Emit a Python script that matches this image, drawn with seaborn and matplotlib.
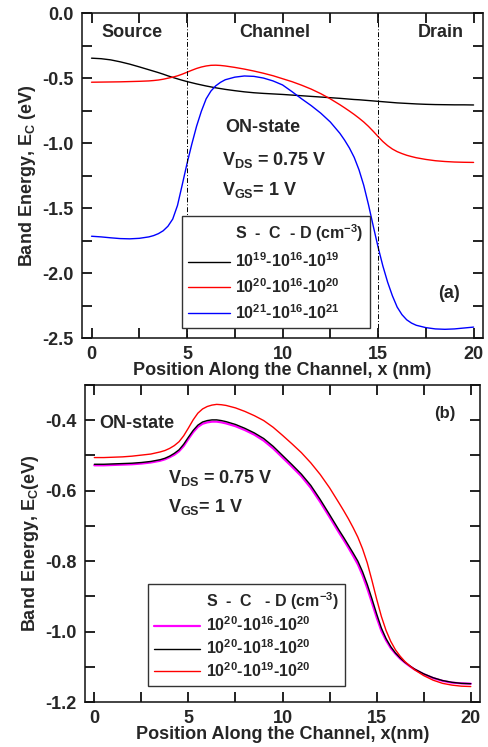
import matplotlib
matplotlib.use("Agg")
import numpy as np
import pandas as pd
import seaborn as sns
import matplotlib.pyplot as plt
from matplotlib.lines import Line2D
from matplotlib.ticker import MultipleLocator, FormatStrFormatter

# ---------------- data: panel (a) ----------------
x_a = [0, 0.5, 1, 1.5, 2, 2.5, 3,
       3.25, 3.5, 3.75, 4, 4.25, 4.5, 4.75, 5, 5.25, 5.5, 5.75, 6, 6.25, 6.5, 6.75,
       7, 7.5, 8, 8.5, 9, 9.5, 10, 10.5, 11, 11.5, 12, 12.5, 13,
       13.25, 13.5, 13.75, 14, 14.25, 14.5, 14.75, 15, 15.25, 15.5, 15.75, 16,
       16.25, 16.5, 16.75, 17,
       17.5, 18, 18.5, 19, 19.5, 20]
ec_19 = [-0.347, -0.351, -0.360, -0.375, -0.393, -0.414, -0.436,
         -0.447, -0.458, -0.470, -0.483, -0.495, -0.506, -0.517, -0.527, -0.536,
         -0.545, -0.553, -0.561, -0.568, -0.575, -0.581,
         -0.587, -0.597, -0.606, -0.613, -0.618, -0.622, -0.626, -0.631, -0.636,
         -0.641, -0.646, -0.651, -0.656,
         -0.659, -0.662, -0.665, -0.667, -0.670, -0.673, -0.676, -0.679, -0.682,
         -0.685, -0.688, -0.691, -0.693, -0.695, -0.697, -0.699,
         -0.702, -0.704, -0.705, -0.706, -0.706, -0.707]
ec_20 = [-0.532, -0.531, -0.530, -0.529, -0.527, -0.525, -0.522,
         -0.519, -0.515, -0.509, -0.501, -0.493, -0.483, -0.470, -0.455, -0.440,
         -0.426, -0.415, -0.407, -0.402, -0.401, -0.403,
         -0.407, -0.418, -0.431, -0.446, -0.463, -0.482, -0.505, -0.528, -0.555,
         -0.585, -0.620, -0.660, -0.705,
         -0.729, -0.754, -0.780, -0.808, -0.838, -0.872, -0.910, -0.950, -0.988,
         -1.020, -1.046, -1.066, -1.081, -1.094, -1.104, -1.113,
         -1.126, -1.136, -1.142, -1.146, -1.148, -1.149]
ec_21 = [-1.717, -1.722, -1.729, -1.735, -1.737, -1.733, -1.722,
         -1.712, -1.697, -1.675, -1.640, -1.585, -1.480, -1.320, -1.157, -1.008,
         -0.870, -0.755, -0.660, -0.600, -0.560, -0.533,
         -0.513, -0.493, -0.484, -0.487, -0.500, -0.522, -0.553, -0.605, -0.660,
         -0.712, -0.770, -0.838, -0.925,
         -0.978, -1.038, -1.110, -1.205, -1.325, -1.475, -1.640, -1.800, -1.945,
         -2.070, -2.175, -2.262, -2.320, -2.360, -2.385, -2.402,
         -2.420, -2.430, -2.433, -2.430, -2.423, -2.416]
labels_a = ["10$^{19}$-10$^{16}$-10$^{19}$",
            "10$^{20}$-10$^{16}$-10$^{20}$",
            "10$^{21}$-10$^{16}$-10$^{21}$"]
colors_a = ["black", "#ff0000", "#0000ff"]

# ---------------- data: panel (b) ----------------
x_b = [0, 0.5, 1, 1.5, 2, 2.5, 3, 3.5,
       3.75, 4, 4.25, 4.5, 4.75, 5, 5.25, 5.5, 5.75, 6, 6.25, 6.5, 6.75,
       7, 7.5, 8, 8.5, 9, 9.5, 10, 10.5, 11, 11.5, 12, 12.5, 13,
       13.25, 13.5, 13.75, 14, 14.25, 14.5, 14.75, 15, 15.25, 15.5, 15.75, 16,
       16.25, 16.5, 16.75, 17,
       17.5, 18, 18.5, 19, 19.5, 20]
ch_16 = [-0.528, -0.528, -0.527, -0.526, -0.525, -0.523, -0.520, -0.515,
         -0.511, -0.505, -0.498, -0.488, -0.473, -0.453, -0.434, -0.419, -0.410,
         -0.406, -0.404, -0.404, -0.406,
         -0.409, -0.417, -0.428, -0.441, -0.458, -0.480, -0.506, -0.532, -0.559,
         -0.592, -0.632, -0.675, -0.719,
         -0.740, -0.762, -0.785, -0.809, -0.840, -0.877, -0.918, -0.960, -0.998,
         -1.025, -1.047, -1.063, -1.077, -1.088, -1.098, -1.107,
         -1.121, -1.132, -1.140, -1.145, -1.147, -1.148]
ch_18 = [-0.525, -0.525, -0.524, -0.523, -0.522, -0.520, -0.517, -0.512,
         -0.508, -0.502, -0.494, -0.484, -0.468, -0.448, -0.429, -0.414, -0.405,
         -0.401, -0.399, -0.399, -0.401,
         -0.404, -0.412, -0.423, -0.436, -0.452, -0.474, -0.500, -0.526, -0.553,
         -0.585, -0.625, -0.668, -0.712,
         -0.733, -0.755, -0.777, -0.800, -0.830, -0.866, -0.907, -0.950, -0.990,
         -1.020, -1.043, -1.061, -1.075, -1.087, -1.097, -1.106,
         -1.120, -1.131, -1.139, -1.144, -1.147, -1.148]
ch_19 = [-0.506, -0.506, -0.505, -0.504, -0.502, -0.499, -0.496, -0.490,
         -0.486, -0.480, -0.472, -0.461, -0.444, -0.422, -0.399, -0.380, -0.368,
         -0.361, -0.357, -0.355, -0.356,
         -0.358, -0.365, -0.375, -0.387, -0.401, -0.420, -0.443, -0.467, -0.492,
         -0.521, -0.554, -0.592, -0.635,
         -0.657, -0.680, -0.705, -0.732, -0.765, -0.805, -0.855, -0.908, -0.957,
         -0.997, -1.028, -1.052, -1.070, -1.085, -1.097, -1.108,
         -1.125, -1.138, -1.147, -1.152, -1.155, -1.156]
labels_b = ["10$^{20}$-10$^{16}$-10$^{20}$",
            "10$^{20}$-10$^{18}$-10$^{20}$",
            "10$^{20}$-10$^{19}$-10$^{20}$"]
colors_b = ["#ff00ff", "black", "#ff0000"]
widths_b = [1.6, 1.0, 1.0]

# ---------------- style ----------------
sns.set_style("ticks")
plt.rcParams["font.family"] = ["Liberation Sans", "DejaVu Sans"]
plt.rcParams["font.weight"] = "bold"
plt.rcParams["axes.labelweight"] = "bold"
plt.rcParams["axes.axisbelow"] = False
plt.rcParams["mathtext.fontset"] = "custom"
plt.rcParams["mathtext.rm"] = "Liberation Sans:bold"
plt.rcParams["mathtext.it"] = "Liberation Sans:bold"
plt.rcParams["mathtext.bf"] = "Liberation Sans:bold"
plt.rcParams["mathtext.default"] = "rm"

fig = plt.figure(figsize=(4.88, 7.47), dpi=100)
ax1 = fig.add_axes([0.168, 0.5475, 0.822, 0.435])
ax2 = fig.add_axes([0.174, 0.0602, 0.810, 0.4244])

TICK_FS = 13
LAB_FS = 13
TXT_FS = 13

# ---------------- panel (a) ----------------
df_a = pd.DataFrame({"x": x_a, "c19": ec_19, "c20": ec_20, "c21": ec_21})
for col, c in zip(["c19", "c20", "c21"], colors_a):
    sns.lineplot(data=df_a, x="x", y=col, color=c, lw=1.0, ax=ax1)
for xv in (5, 15):
    ax1.axvline(xv, color="black", lw=0.7, ls=(0, (5, 2, 1, 2)))
ax1.set_xlim(-0.5, 20.5)
ax1.set_ylim(-2.5, 0.0)
ax1.xaxis.set_major_locator(MultipleLocator(5))
ax1.xaxis.set_minor_locator(MultipleLocator(2.5))
ax1.yaxis.set_major_locator(MultipleLocator(0.5))
ax1.yaxis.set_minor_locator(MultipleLocator(0.25))
ax1.yaxis.set_major_formatter(FormatStrFormatter("%.1f"))
ax1.set_xlabel("Position Along the Channel, x (nm)", fontsize=LAB_FS, labelpad=-1)
ax1.set_ylabel("Band Energy, E$_C$ (eV)", fontsize=LAB_FS, labelpad=3)

ax1.text(2.1, -0.15, "Source", fontsize=TXT_FS, ha="center", va="center")
ax1.text(9.6, -0.15, "Channel", fontsize=TXT_FS, ha="center", va="center")
ax1.text(18.3, -0.15, "Drain", fontsize=TXT_FS, ha="center", va="center")
ax1.text(7.0, -0.88, "ON-state", fontsize=TXT_FS, ha="left", va="center")
ax1.text(6.85, -1.13, "V$_{DS}$ = 0.75 V", fontsize=TXT_FS, ha="left", va="center")
ax1.text(6.85, -1.36, "V$_{GS}$= 1 V", fontsize=TXT_FS, ha="left", va="center")
ax1.text(18.7, -2.16, "(a)", fontsize=TXT_FS, ha="center", va="center")

handles_a = [Line2D([], [], color="none")] + [Line2D([], [], color=c, lw=1.0) for c in colors_a]
lab_a = ["S  -  C  - D (cm$^{-3}$)"] + labels_a
leg1 = ax1.legend(handles_a, lab_a, loc="lower left", bbox_to_anchor=(0.249, 0.03),
                  frameon=True, fancybox=False, framealpha=1, edgecolor="#333333",
                  fontsize=11.5, handlelength=2.6, handletextpad=0.35,
                  labelspacing=0.45, borderpad=0.4, borderaxespad=0)
leg1.get_frame().set_linewidth(1.0)

# ---------------- panel (b) ----------------
df_b = pd.DataFrame({"x": x_b, "c16": ch_16, "c18": ch_18, "c19": ch_19})
for col, c, lw in zip(["c16", "c18", "c19"], colors_b, widths_b):
    sns.lineplot(data=df_b, x="x", y=col, color=c, lw=lw, ax=ax2)
ax2.set_xlim(-0.5, 20.5)
ax2.set_ylim(-1.2, -0.3)
ax2.xaxis.set_major_locator(MultipleLocator(5))
ax2.xaxis.set_minor_locator(MultipleLocator(2.5))
ax2.yaxis.set_major_locator(MultipleLocator(0.2))
ax2.yaxis.set_minor_locator(MultipleLocator(0.1))
ax2.yaxis.set_major_formatter(FormatStrFormatter("%.1f"))
ax2.set_xlabel("Position Along the Channel, x(nm)", fontsize=LAB_FS, labelpad=-1)
ax2.set_ylabel("Band Energy, E$_C$(eV)", fontsize=LAB_FS, labelpad=3)

ax2.text(0.28, -0.41, "ON-state", fontsize=TXT_FS, ha="left", va="center")
ax2.text(3.9, -0.565, "V$_{DS}$ = 0.75 V", fontsize=TXT_FS, ha="left", va="center")
ax2.text(3.9, -0.645, "V$_{GS}$= 1 V", fontsize=TXT_FS, ha="left", va="center")
ax2.text(18.6, -0.38, "(b)", fontsize=12, ha="center", va="center")

handles_b = [Line2D([], [], color="none")] + [Line2D([], [], color=c, lw=lw)
                                             for c, lw in zip(colors_b, widths_b)]
lab_b = ["S  -  C   - D (cm$^{-3}$)"] + labels_b
leg2 = ax2.legend(handles_b, lab_b, loc="lower left", bbox_to_anchor=(0.159, 0.05),
                  frameon=True, fancybox=False, framealpha=1, edgecolor="#333333",
                  fontsize=11.5, handlelength=2.9, handletextpad=0.35,
                  labelspacing=0.25, borderpad=0.4, borderaxespad=0)
leg2.get_frame().set_linewidth(1.0)

# ---------------- axes frame & ticks (applied last) ----------------
for ax in (ax1, ax2):
    ax.set_axisbelow(False)
    for s in ax.spines.values():
        s.set_linewidth(1.2)
        s.set_color("#222222")
    ax.tick_params(which="major", direction="in", top=True, right=True,
                   bottom=True, left=True, length=7, width=1.3,
                   color="#111111", labelsize=TICK_FS, pad=6)
    ax.tick_params(which="minor", direction="in", top=True, right=True,
                   bottom=True, left=True, length=7, width=1.3,
                   color="#111111")

fig.savefig("out.png", dpi=100)
